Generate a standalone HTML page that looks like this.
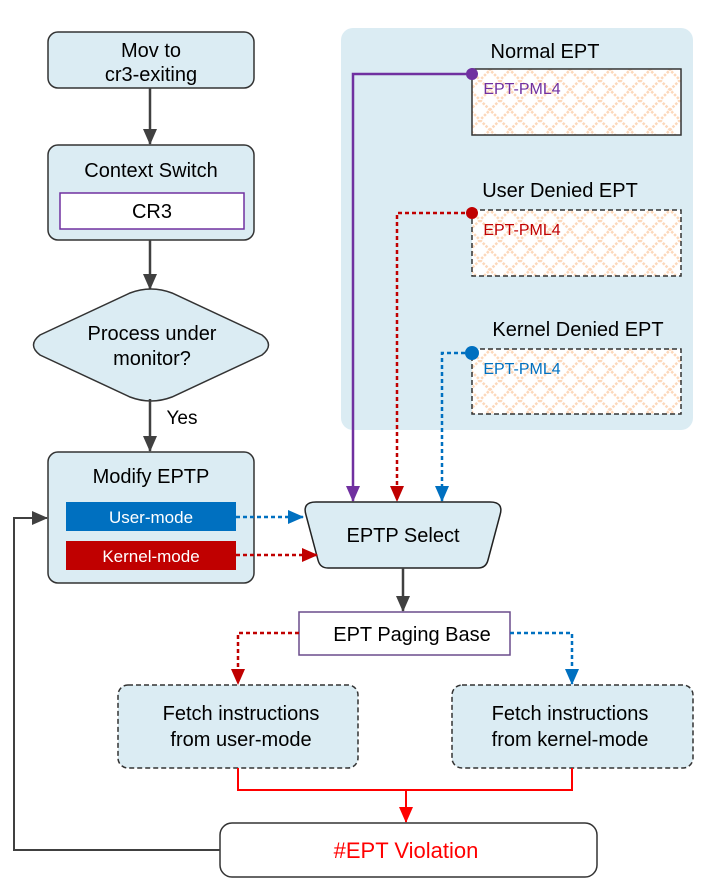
<!DOCTYPE html>
<html><head><meta charset="utf-8"><style>body{margin:0;background:#fff}svg{display:block;font-family:"Liberation Sans",sans-serif}</style></head><body>
<svg width="706" height="895" viewBox="0 0 706 895" xmlns="http://www.w3.org/2000/svg">
<defs>
<pattern id="h" width="20" height="20" patternUnits="userSpaceOnUse">
<rect width="20" height="20" fill="#fff"/>
<path d="M0 0L20 20M20 0L0 20" stroke="#fcd8bb" stroke-width="2.5" stroke-dasharray="2.5,1.5"/>
</pattern>
<marker id="ak" markerWidth="16" markerHeight="16" refX="15" refY="7" orient="auto" markerUnits="userSpaceOnUse" viewBox="0 0 16 14"><path d="M0 0L16 7L0 14z" fill="#404040"/></marker>
<marker id="ap" markerWidth="16" markerHeight="14" refX="15" refY="7" orient="auto" markerUnits="userSpaceOnUse" viewBox="0 0 16 14"><path d="M0 0L16 7L0 14z" fill="#7030a0"/></marker>
<marker id="ar" markerWidth="16" markerHeight="14" refX="15" refY="7" orient="auto" markerUnits="userSpaceOnUse" viewBox="0 0 16 14"><path d="M0 0L16 7L0 14z" fill="#c00000"/></marker>
<marker id="ab" markerWidth="16" markerHeight="14" refX="15" refY="7" orient="auto" markerUnits="userSpaceOnUse" viewBox="0 0 16 14"><path d="M0 0L16 7L0 14z" fill="#0070c0"/></marker>
<marker id="arr" markerWidth="16" markerHeight="14" refX="15" refY="7" orient="auto" markerUnits="userSpaceOnUse" viewBox="0 0 16 14"><path d="M0 0L16 7L0 14z" fill="#ff0000"/></marker>
</defs>
<g font-size="20" fill="#000" text-anchor="middle">
<rect x="341" y="28" width="352" height="402" rx="12" fill="#dbecf3"/>
<rect x="48" y="32" width="206" height="56" rx="10" fill="#dbecf3" stroke="#333" stroke-width="1.5"/>
<text x="151" y="57">Mov to</text><text x="151" y="81">cr3-exiting</text>
<line x1="150" y1="88" x2="150" y2="144" stroke="#404040" stroke-width="2.5" marker-end="url(#ak)"/>
<rect x="48" y="145" width="206" height="95" rx="10" fill="#dbecf3" stroke="#333" stroke-width="1.5"/>
<text x="151" y="177">Context Switch</text>
<rect x="60" y="193" width="184" height="36" fill="#fff" stroke="#7030a0" stroke-width="1.5"/>
<text x="152" y="218">CR3</text>
<line x1="150" y1="240" x2="150" y2="289" stroke="#404040" stroke-width="2.5" marker-end="url(#ak)"/>
<path d="M130 293Q151 285 172 293L262 335Q275 345 262 355L172 397Q151 405 130 397L40 355Q27 345 40 335Z" fill="#dbecf3" stroke="#333" stroke-width="1.5"/>
<text x="152" y="340">Process under</text><text x="152" y="365">monitor?</text>
<line x1="150" y1="399" x2="150" y2="451" stroke="#404040" stroke-width="2.5" marker-end="url(#ak)"/>
<text x="182" y="424" font-size="19">Yes</text>
<rect x="48" y="452" width="206" height="131" rx="10" fill="#dbecf3" stroke="#333" stroke-width="1.5"/>
<text x="151" y="483">Modify EPTP</text>
<rect x="66" y="502" width="170" height="29" fill="#0070c0"/>
<text x="151" y="523" fill="#fff" font-size="17">User-mode</text>
<rect x="66" y="541" width="170" height="29" fill="#c00000"/>
<text x="151" y="562" fill="#fff" font-size="17">Kernel-mode</text>
<text x="545" y="58">Normal EPT</text>
<rect x="472" y="69" width="209" height="66" fill="url(#h)" stroke="#333" stroke-width="1.5"/>
<text x="522" y="94" font-size="16" fill="#7030a0">EPT-PML4</text>
<text x="560" y="197">User Denied EPT</text>
<rect x="472" y="210" width="209" height="66" fill="url(#h)" stroke="#333" stroke-width="1.5" stroke-dasharray="5,3"/>
<text x="522" y="235" font-size="16" fill="#c00000">EPT-PML4</text>
<text x="578" y="336">Kernel Denied EPT</text>
<rect x="472" y="349" width="209" height="65" fill="url(#h)" stroke="#333" stroke-width="1.5" stroke-dasharray="5,3"/>
<text x="522" y="374" font-size="16" fill="#0070c0">EPT-PML4</text>
<polyline points="472,74 353,74 353,501" fill="none" stroke="#7030a0" stroke-width="2.5" marker-end="url(#ap)"/>
<circle cx="472" cy="74" r="6" fill="#7030a0"/>
<polyline points="472,213 397,213 397,501" fill="none" stroke="#c00000" stroke-width="2.5" stroke-dasharray="4,3" marker-end="url(#ar)"/>
<circle cx="472" cy="213" r="6" fill="#c00000"/>
<polyline points="472,353 442,353 442,501" fill="none" stroke="#0070c0" stroke-width="2.5" stroke-dasharray="4,3" marker-end="url(#ab)"/>
<circle cx="472" cy="353" r="7" fill="#0070c0"/>
<path d="M316 502H490Q504 502 500 515L488 560Q486 568 478 568H328Q320 568 318 560L306 515Q302 502 316 502Z" fill="#dbecf3" stroke="#222" stroke-width="1.5"/>
<text x="403" y="542">EPTP Select</text>
<line x1="236" y1="517" x2="303" y2="517" stroke="#0070c0" stroke-width="2.5" stroke-dasharray="4,3" marker-end="url(#ab)"/>
<line x1="236" y1="555" x2="317" y2="555" stroke="#c00000" stroke-width="2.5" stroke-dasharray="4,3" marker-end="url(#ar)"/>
<line x1="403" y1="568" x2="403" y2="611" stroke="#404040" stroke-width="2.5" marker-end="url(#ak)"/>
<rect x="299" y="612" width="211" height="43" fill="#fff" stroke="#6a4c8c" stroke-width="1.5"/>
<text x="412" y="641">EPT Paging Base</text>
<polyline points="299,633 238,633 238,684" fill="none" stroke="#c00000" stroke-width="2.5" stroke-dasharray="4,3" marker-end="url(#ar)"/>
<polyline points="510,633 572,633 572,684" fill="none" stroke="#0070c0" stroke-width="2.5" stroke-dasharray="4,3" marker-end="url(#ab)"/>
<rect x="118" y="685" width="240" height="83" rx="10" fill="#dbecf3" stroke="#333" stroke-width="1.5" stroke-dasharray="5,3"/>
<text x="241" y="720">Fetch instructions</text><text x="241" y="746">from user-mode</text>
<rect x="452" y="685" width="241" height="83" rx="10" fill="#dbecf3" stroke="#333" stroke-width="1.5" stroke-dasharray="5,3"/>
<text x="570" y="720">Fetch instructions</text><text x="570" y="746">from kernel-mode</text>
<polyline points="238,768 238,790 572,790 572,768" fill="none" stroke="#ff0000" stroke-width="2"/>
<line x1="406" y1="790" x2="406" y2="822" stroke="#ff0000" stroke-width="2" marker-end="url(#arr)"/>
<rect x="220" y="823" width="377" height="54" rx="12" fill="#fff" stroke="#333" stroke-width="1.5"/>
<text x="406" y="858" fill="#ff0000" font-size="22">#EPT Violation</text>
<polyline points="220,850 14,850 14,518 47,518" fill="none" stroke="#404040" stroke-width="2" marker-end="url(#ak)"/>
</g>
</svg>
</body></html>
